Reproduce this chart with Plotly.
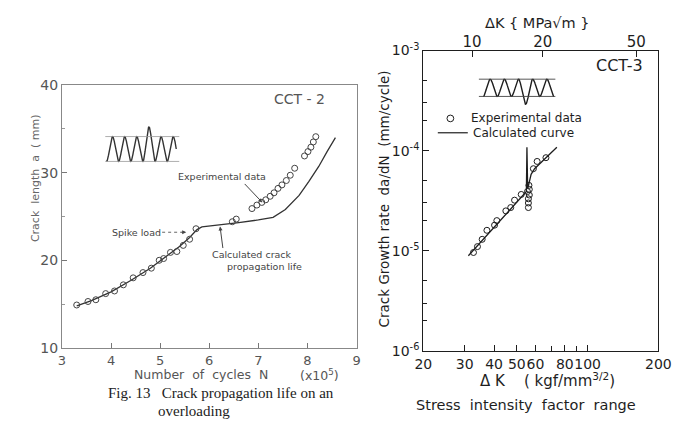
import numpy as np
import plotly.graph_objects as go

# ---------------- data: left panel (CCT-2) ----------------
cycles_exp = [3.30, 3.53, 3.69, 3.89, 4.07, 4.25, 4.45, 4.65, 4.82, 4.98, 5.07, 5.21, 5.34, 5.47, 5.60, 5.73,
              6.47, 6.55, 6.87, 6.97, 7.07, 7.15, 7.24, 7.32, 7.40, 7.48, 7.57, 7.65, 7.74,
              7.94, 8.01, 8.07, 8.12, 8.17]
crack_exp = [14.9, 15.3, 15.5, 16.2, 16.5, 17.2, 18.0, 18.6, 19.1, 20.0, 20.2, 20.9, 21.0, 21.7, 22.4, 23.6,
             24.4, 24.7, 25.9, 26.3, 26.6, 26.9, 27.3, 27.7, 28.2, 28.6, 29.1, 29.7, 30.5,
             31.9, 32.4, 32.9, 33.5, 34.1]
cycles_calc = [3.30, 3.60, 4.00, 4.40, 4.80, 5.10, 5.40, 5.60, 5.75, 5.85, 6.20, 6.60, 7.00, 7.30,
               7.55, 7.83, 8.03, 8.23, 8.40, 8.57]
crack_calc = [14.8, 15.4, 16.4, 17.7, 19.1, 20.3, 21.6, 22.6, 23.5, 23.8, 24.0, 24.3, 24.6, 24.9,
              25.8, 27.4, 29.0, 30.7, 32.4, 34.0]
left_xticks = [3, 4, 5, 6, 7, 8, 9]
left_yticks = [10, 20, 30, 40]

# ---------------- data: right panel (CCT-3) ----------------
dk_exp = [32.7, 34.0, 35.6, 37.3, 40.2, 41.1, 44.9, 47.1, 48.9, 52.2, 55.5, 56.3, 56.5, 56.0, 56.0, 56.0,
          56.5, 58.8, 61.0, 66.5]
dadn_exp = [9.6e-6, 1.1e-5, 1.3e-5, 1.6e-5, 1.8e-5, 2.0e-5, 2.5e-5, 2.7e-5, 3.2e-5, 3.65e-5, 3.9e-5,
            4.5e-5, 3.6e-5, 3.3e-5, 3.0e-5, 2.7e-5, 4.1e-5, 6.6e-5, 7.8e-5, 8.5e-5]
dk_calc = [31.1, 40.0, 48.0, 54.9, 55.2, 55.6, 56.2, 57.5, 59.5, 65.0, 74.0]
dadn_calc = [8.9e-6, 1.7e-5, 2.75e-5, 3.9e-5, 1.08e-4, 4.2e-5, 4.6e-5, 5.8e-5, 6.6e-5, 8.0e-5, 1.08e-4]
dk_ticks = [20, 30, 40, 50, 60, 80, 100, 200]
dk_minor = [70, 90]
mpa_ticks = [10, 20, 50]
rate_ticks = [1e-6, 1e-5, 1e-4, 1e-3]
rate_ticklabels = ["10<sup>-6</sup>", "10<sup>-5</sup>", "10<sup>-4</sup>", "10<sup>-3</sup>"]
KGF_TO_MPA = 0.31012  # 1 kgf/mm^1.5 in MPa*sqrt(m)

# ---------------- load wave icons (extrema of the schematic) ----------------
wave_left_t = [0, 0.5, 1, 1.5, 2, 2.5, 3, 3.5, 4, 4.5, 5, 5.5, 6]
wave_left_v = [-1, 1, -1, 1, -1, 1, -1, 1.77, -1, 1, -1, 1, -1]
wave_right_t = [0, 0.5, 1, 1.5, 2, 2.5, 3, 3.5, 4, 4.5, 5]
wave_right_v = [-1, 1, -1, 1, -1, 1, -1.9, 1, -1, 1, -1]


def smooth_wave(ts, vs, n=30, tmax=None):
    xs, ys = [], []
    for i in range(len(ts) - 1):
        s = np.linspace(0, 1, n, endpoint=False)
        xs.extend(ts[i] + (ts[i + 1] - ts[i]) * s)
        ys.extend(vs[i] + (vs[i + 1] - vs[i]) * (1 - np.cos(np.pi * s)) / 2)
    xs.append(ts[-1]); ys.append(vs[-1])
    xs, ys = np.array(xs), np.array(ys)
    if tmax is not None:
        keep = xs <= tmax
        xs, ys = xs[keep], ys[keep]
    return xs, ys


LG = "#555555"   # left panel ink (lighter scan)
RK = "#1e1e1e"   # right panel ink
FONT = "DejaVu Sans"

fig = go.Figure()

fig.add_trace(go.Scatter(x=cycles_calc, y=crack_calc, mode="lines", line=dict(color="#333", width=1.3),
                         xaxis="x", yaxis="y", showlegend=False))
fig.add_trace(go.Scatter(x=cycles_exp, y=crack_exp, mode="markers",
                         marker=dict(symbol="circle-open", size=6, color="#444", line=dict(width=1)),
                         xaxis="x", yaxis="y", showlegend=False))

fig.add_trace(go.Scatter(x=dk_calc, y=dadn_calc, mode="lines", line=dict(color=RK, width=1.3),
                         xaxis="x2", yaxis="y2", name="Calculated curve", showlegend=False))
fig.add_trace(go.Scatter(x=dk_exp, y=dadn_exp, mode="markers",
                         marker=dict(symbol="circle-open", size=6, color=RK, line=dict(width=1)),
                         xaxis="x2", yaxis="y2", name="Experimental data", showlegend=False))
fig.add_trace(go.Scatter(x=[mpa_ticks[0]], y=[rate_ticks[0]], mode="markers", marker=dict(opacity=0),
                         xaxis="x3", yaxis="y2", showlegend=False, hoverinfo="skip"))

wl_x, wl_y = smooth_wave(wave_left_t, wave_left_v, tmax=5.75)
fig.add_trace(go.Scatter(x=wl_x, y=wl_y, mode="lines", line=dict(color="#333", width=1.4),
                         xaxis="x4", yaxis="y4", showlegend=False, hoverinfo="skip"))
fig.add_trace(go.Scatter(x=[-0.1, 6.0, None, -0.1, 6.0], y=[1, 1, None, -1, -1], mode="lines",
                         line=dict(color="#999", width=0.8), xaxis="x4", yaxis="y4", showlegend=False,
                         hoverinfo="skip"))
wr_x, wr_y = smooth_wave(wave_right_t, wave_right_v)
fig.add_trace(go.Scatter(x=wr_x, y=wr_y, mode="lines", line=dict(color=RK, width=1.4),
                         xaxis="x5", yaxis="y5", showlegend=False, hoverinfo="skip"))
fig.add_trace(go.Scatter(x=[-0.3, 5.1, None, -0.3, 5.1], y=[1, 1, None, -1, -1], mode="lines",
                         line=dict(color="#444", width=0.9), xaxis="x5", yaxis="y5", showlegend=False,
                         hoverinfo="skip"))

# the page keeps the browser's 8 px body margin: size the figure so page == 690x429
PAGE_W, PAGE_H, M = 690, 429, 8
W, H = PAGE_W - 2 * M, PAGE_H - 2 * M
px = lambda v: (v - M) / W
py = lambda v: 1 - (v - M) / H

axis_common = dict(showgrid=False, zeroline=False, ticks="inside", mirror=True, showline=True)

fig.update_layout(
    width=W, height=H, margin=dict(l=0, r=0, t=0, b=0),
    paper_bgcolor="white", plot_bgcolor="white",
    font=dict(family=FONT, color=RK),
    xaxis=dict(domain=[px(54.5), px(359)], range=[3, 9], anchor="y", tickvals=left_xticks,
               linecolor="#888", linewidth=1, tickcolor="#777", ticklen=5, tickangle=0,
               tickfont=dict(size=13, color=LG), **axis_common),
    yaxis=dict(domain=[py(353), py(78)], range=[10, 40], anchor="x", tickvals=left_yticks,
               linecolor="#888", linewidth=1, tickcolor="#777", ticklen=5,
               minor=dict(tickvals=[15, 25, 35], ticks="inside", ticklen=3, tickcolor="#999"),
               tickfont=dict(size=14, color=LG), **axis_common),
    xaxis2=dict(domain=[px(428), px(671)], type="log", range=[np.log10(20), np.log10(200)], anchor="y2",
                tickvals=dk_ticks, ticktext=[str(v) for v in dk_ticks], tickangle=0,
                minor=dict(tickvals=dk_minor, ticks="inside", ticklen=5, tickcolor=RK),
                linecolor=RK, linewidth=1.2, tickcolor=RK, ticklen=6,
                tickfont=dict(size=14, color=RK), **axis_common),
    yaxis2=dict(domain=[py(356), py(42)], type="log", range=[-6, -3], anchor="x2",
                tickvals=rate_ticks, ticktext=rate_ticklabels,
                minor=dict(tickvals=[m * 10.0 ** e for e in (-6, -5, -4) for m in (2, 3, 5)],
                           ticks="inside", ticklen=4, tickcolor=RK),
                linecolor=RK, linewidth=1.2, tickcolor=RK, ticklen=6,
                tickfont=dict(size=14, color=RK), **axis_common),
    xaxis3=dict(overlaying="x2", side="top", type="log", anchor="y2",
                range=[np.log10(20 * KGF_TO_MPA), np.log10(200 * KGF_TO_MPA)],
                tickvals=mpa_ticks, ticktext=[str(v) for v in mpa_ticks], ticks="inside", ticklen=6,
                tickcolor=RK, showline=False, showgrid=False, zeroline=False, tickangle=0,
                tickfont=dict(size=15, color=RK)),
    xaxis4=dict(domain=[px(98), px(177)], range=[-0.2, 6.1], anchor="y4", visible=False),
    yaxis4=dict(domain=[py(162), py(120)], range=[-1.31, 1.92], anchor="x4", visible=False),
    xaxis5=dict(domain=[px(484), px(566)], range=[-0.4, 5.2], anchor="y5", visible=False),
    yaxis5=dict(domain=[py(100), py(68)], range=[-2.11, 1.44], anchor="x5", visible=False),
)

ann = []


def text(x, y, s, size, color=RK, family=FONT, xanchor="center", angle=0):
    ann.append(dict(x=px(x), y=py(y), xref="paper", yref="paper", text=s, showarrow=False,
                    font=dict(size=size, color=color, family=family), xanchor=xanchor,
                    yanchor="middle", textangle=angle))


text(300, 93, "CCT - 2", 14, LG)
text(27, 175, "Crack  length  a  ( mm)", 11, "#666", angle=-90)
text(198, 381, "Number  of  cycles  N", 12.5, LG)
text(321, 381, "(x10<sup>5</sup>)", 12.5, LG)
text(132, 232, "Spike load", 9.5, "#444")
text(220, 174, "Experimental data", 9.5, "#444")
text(208, 255, "Calculated crack", 9.5, "#444", xanchor="left")
text(223, 268, "propagation life", 9.5, "#444", xanchor="left")
text(100, 400, "Fig. 13   Crack propagation life on an", 15, "#222", "Liberation Serif", xanchor="left")
text(152, 419, "overloading", 15, "#222", "Liberation Serif", xanchor="left")

text(631, 58, "CCT-3", 16)
text(546, 13, "ΔK { MPa√m }", 14.5)
text(387, 197, "Crack Growth rate  da/dN  (mm/cycle)", 13.5, angle=-90)
text(556, 386, "Δ K    ( kgf/mm<sup>3/2</sup>)", 15)
text(534, 413, "Stress  intensity  factor  range", 14.5)
text(475, 113, "Experimental data", 12, xanchor="left")
text(477, 128, "Calculated curve", 12, xanchor="left")

ann.append(dict(x=7.08, y=26.6, xref="x", yref="y", ax=-19, ay=-20, text="", showarrow=True,
                arrowhead=2, arrowsize=0.8, arrowwidth=1, arrowcolor="#444"))
ann.append(dict(x=6.22, y=23.85, xref="x", yref="y", ax=3, ay=23, text="", showarrow=True,
                arrowhead=2, arrowsize=0.8, arrowwidth=1, arrowcolor="#444"))
ann.append(dict(x=5.53, y=23.2, xref="x", yref="y", ax=-6, ay=0, text="", showarrow=True,
                arrowhead=2, arrowsize=0.8, arrowwidth=1, arrowcolor="#444"))
fig.update_layout(annotations=ann)

shapes = [
    dict(type="line", xref="x", yref="y", x0=5.04, y0=23.2, x1=5.45, y1=23.2,
         line=dict(color="#666", width=1, dash="dot")),
    dict(type="circle", xref="paper", yref="paper", x0=px(452.5), x1=px(459.5), y0=py(116.5), y1=py(109.5),
         line=dict(color=RK, width=1)),
    dict(type="line", xref="paper", yref="paper", x0=px(443), x1=px(474), y0=py(128), y1=py(128),
         line=dict(color=RK, width=1.2)),
]
fig.update_layout(shapes=shapes)

fig.write_html("out.html", config={"displayModeBar": False})
